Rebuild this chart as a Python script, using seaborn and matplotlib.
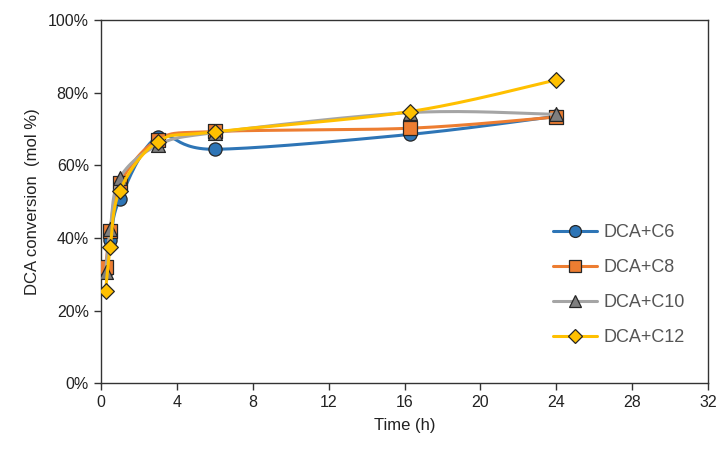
import numpy as np
import pandas as pd
import seaborn as sns
import matplotlib
matplotlib.use("Agg")
import matplotlib.pyplot as plt
from matplotlib.lines import Line2D
from matplotlib.ticker import PercentFormatter

# data
time_h = [0.25, 0.5, 1, 3, 6, 16.3, 24]
c6 = [31.0, 39.5, 50.7, 67.8, 64.4, 68.5, 73.5]
c8 = [32.0, 42.0, 55.0, 67.0, 69.3, 70.2, 73.3]
c10 = [30.5, 42.5, 56.5, 65.5, 69.0, 74.5, 74.0]
c12 = [25.3, 37.5, 53.0, 66.5, 69.2, 74.8, 83.5]
names = ["DCA+C6", "DCA+C8", "DCA+C10", "DCA+C12"]

line_cols = ["#2E75B6", "#ED7D31", "#A5A5A5", "#FFC000"]
face_cols = ["#2E75B6", "#ED7D31", "#7F7F7F", "#FFC000"]
marks = ["o", "s", "^", "D"]
msize = [9.5, 9.5, 10, 8]

df = pd.DataFrame({"time": time_h * 4,
                   "conv": c6 + c8 + c10 + c12,
                   "series": sum([[n] * len(time_h) for n in names], [])})


def smooth(x, y, n=30):
    # excel style smoothed line (bezier through the points)
    p = np.column_stack([x, y]).astype(float)
    pts = np.vstack([p[0], p, p[-1]])
    out = []
    t = np.linspace(0, 1, n)[:, None]
    for i in range(1, len(pts) - 2):
        p0, p3 = pts[i], pts[i + 1]
        p1 = p0 + (pts[i + 1] - pts[i - 1]) / 6
        p2 = p3 - (pts[i + 2] - pts[i]) / 6
        seg = ((1 - t) ** 3) * p0 + 3 * ((1 - t) ** 2) * t * p1 + 3 * (1 - t) * t ** 2 * p2 + t ** 3 * p3
        out.append(seg)
    c = np.vstack(out)
    return c[:, 0], c[:, 1]


sns.set_style("white")
plt.rcParams['font.family'] = ['Liberation Sans', 'DejaVu Sans']

fig = plt.figure(figsize=(7.25, 4.54), dpi=100)
ax = fig.add_axes([0.139, 0.156, 0.838, 0.8])

handles = []
for i, n in enumerate(names):
    sub = df[df["series"] == n]
    sx, sy = smooth(sub["time"].values, sub["conv"].values)
    ax.plot(sx, sy, color=line_cols[i], lw=2.2, zorder=2 + i * 2, solid_capstyle="round")
    sns.scatterplot(data=sub, x="time", y="conv", ax=ax, marker=marks[i], s=msize[i] ** 2,
                    color=face_cols[i], edgecolor="#262626", linewidth=0.9,
                    zorder=3 + i * 2, legend=False)
    handles.append(Line2D([0], [0], color=line_cols[i], lw=2.2, marker=marks[i],
                          markersize=msize[i] * 0.9, markerfacecolor=face_cols[i],
                          markeredgecolor="#262626", markeredgewidth=0.9))

ax.set_xlim(0, 32)
ax.set_ylim(0, 100)
ax.set_xticks(range(0, 33, 4))
ax.set_yticks(range(0, 101, 20))
ax.yaxis.set_major_formatter(PercentFormatter(decimals=0))
ax.tick_params(direction="out", length=5, width=1, color="#333333", labelsize=11.5,
               labelcolor="#222222", bottom=True, left=True)
for s in ax.spines.values():
    s.set_color("#333333")
    s.set_linewidth(1)
ax.set_xlabel("Time (h)", fontsize=12, color="#222222", labelpad=6)
ax.set_ylabel("DCA conversion  (mol %)", fontsize=12, color="#222222", labelpad=6)

ax.legend(handles, names, loc="center left", bbox_to_anchor=(0.718, 0.27), frameon=False,
          fontsize=13, labelcolor="#555555", handlelength=2.4, labelspacing=1.0,
          handletextpad=0.4)

fig.savefig("out.png", dpi=100)
